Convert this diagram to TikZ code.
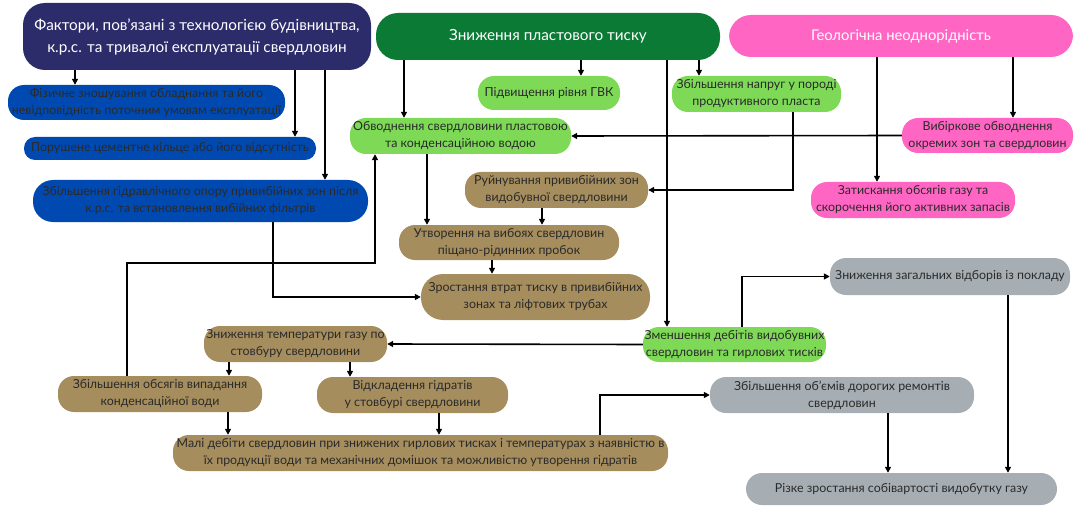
\documentclass[tikz,border=0pt]{standalone}
\usepackage{fontspec}
\setmainfont{Lato}
\usetikzlibrary{arrows.meta}

\definecolor{navyc}{HTML}{2D2C6B}
\definecolor{darkgreenc}{HTML}{0B7A35}
\definecolor{pinkc}{HTML}{FF66C4}
\definecolor{bluec}{HTML}{0049B0}
\definecolor{lightgreenc}{HTML}{7ED957}
\definecolor{brownc}{HTML}{A68D5D}
\definecolor{greyc}{HTML}{A7AEB3}
\definecolor{textc}{HTML}{2A2A2A}

\tikzset{
  box/.style={fill=#1, rounded corners=16pt, align=center, inner sep=1pt,
    text=textc, font=\fontsize{12.4}{17}\selectfont},
  head/.style={fill=#1, rounded corners=22pt, align=center, inner sep=1pt,
    text=white, font=\fontsize{15.3}{22}\selectfont},
  link/.style={line width=1.6pt, -{Triangle[length=6pt,width=6pt]}},
}

\begin{document}
\begin{tikzpicture}[x=1pt, y=-1pt]
\useasboundingbox (0,0) rectangle (1077,508);

% top level causes
\node [head=navyc, minimum width=348, minimum height=67] (fac) at (197,36.5)
  {Фактори, пов'язані з технологією будівництва,\\к.р.с. та тривалої експлуатації свердловин};
\node [head=darkgreenc, minimum width=344, minimum height=47] (pres) at (548,36.5)
  {Зниження пластового тиску};
\node [head=pinkc, minimum width=344, minimum height=42, font=\fontsize{14.8}{20}\selectfont] (geo) at (901,36)
  {Геологічна неоднорідність};

% blue column
\node [box=bluec, minimum width=277, minimum height=35] (wear) at (146.5,102.5)
  {Фізичне зношування обладнання та його\\невідповідність поточним умовам експлуатації};
\node [box=bluec, minimum width=292, minimum height=23, rounded corners=11pt] (cem) at (170,148.5)
  {Порушене цементне кільце або його відсутність};
\node [box=bluec, minimum width=335, minimum height=42, rounded corners=20pt] (hyd) at (200.5,201)
  {Збільшення гідравлічного опору привибійних зон після\\к.р.с. та встановлення вибійних фільтрів};

% green
\node [box=lightgreenc, minimum width=142, minimum height=34] (gvk) at (549,93)
  {Підвищення рівня ГВК};
\node [box=lightgreenc, minimum width=169, minimum height=36] (stress) at (756.5,94)
  {Збільшення напруг у породі\\продуктивного пласта};
\node [box=lightgreenc, minimum width=221, minimum height=36] (water) at (460.5,136)
  {Обводнення свердловини пластовою\\та конденсаційною водою};
\node [box=lightgreenc, minimum width=183, minimum height=35] (rate) at (734.5,344.5)
  {Зменшення дебітів видобувних\\свердловин та гирлових тисків};

% pink
\node [box=pinkc, minimum width=171, minimum height=35] (selw) at (987.5,135.5)
  {Вибіркове обводнення\\окремих зон та свердловин};
\node [box=pinkc, minimum width=204, minimum height=36] (squeeze) at (913,200)
  {Затискання обсягів газу та\\скорочення його активних запасів};

% brown
\node [box=brownc, minimum width=183, minimum height=36] (ruin) at (556.5,190)
  {Руйнування привибійних зон\\видобувної свердловини};
\node [box=brownc, minimum width=220, minimum height=35] (plug) at (509,242.5)
  {Утворення на вибоях свердловин\\піщано-рідинних пробок};
\node [box=brownc, minimum width=229, minimum height=46, rounded corners=22pt] (loss) at (535.5,297)
  {Зростання втрат тиску в привибійних\\зонах та ліфтових трубах};
\node [box=brownc, minimum width=183, minimum height=36] (temp) at (295.5,344)
  {Зниження температури газу по\\стовбуру свердловини};
\node [box=brownc, minimum width=204, minimum height=36] (cond) at (160,394)
  {Збільшення обсягів випадання\\конденсаційної води};
\node [box=brownc, minimum width=191, minimum height=36] (hydr) at (412.5,395)
  {Відкладення гідратів\\у стовбурі свердловини};
\node [box=brownc, minimum width=495, minimum height=36] (small) at (420.5,453)
  {Малі дебіти свердловин при знижених гирлових тисках і температурах з наявністю в\\їх продукції води та механічних домішок та можливістю утворення гідратів};

% grey
\node [box=greyc, minimum width=240, minimum height=37] (prod) at (950,276.5)
  {Зниження загальних відборів із покладу};
\node [box=greyc, minimum width=264, minimum height=36] (repair) at (842,395)
  {Збільшення об'ємів дорогих ремонтів\\свердловин};
\node [box=greyc, minimum width=311, minimum height=32] (cost) at (901.5,489)
  {Різке зростання собівартості видобутку газу};

% connectors
\draw [link] (fac.south -| 75,0) -- (wear.north -| 75,0);
\draw [link] (fac.south -| 295,0) -- (cem.north -| 295,0);
\draw [link] (fac.south -| 325,0) -- (hyd.north -| 325,0);
\draw [link] (hyd.south -| 273,0) |- (loss.west);
\draw [link] (cond.north -| 127,0) -- ++(0,-113) -| (water.south -| 375,0);

\draw [link] (pres.south -| 404,0) -- (water.north -| 404,0);
\draw [link] (pres.south -| 581,0) -- (gvk.north -| 581,0);
\draw [link] (pres.south -| 699,0) -- (stress.north -| 699,0);
\draw [link] (pres.south -| 667,0) -- (rate.north -| 667,0);

\draw [link] (geo.south -| 1013,0) -- (selw.north -| 1013,0);
\draw [link] (geo.south -| 877,0) -- (squeeze.north -| 877,0);
\draw [link] (selw.west) -- (water.east);

\draw [link] (stress.south -| 793,0) |- (ruin.east);
\draw [link] (water.south -| 427,0) -- (plug.north -| 427,0);
\draw [link] (ruin.south -| 542,0) -- (plug.north -| 542,0);
\draw [link] (plug.south -| 492,0) -- (loss.north -| 492,0);

\draw [link] (rate.west) -- (temp.east);
\draw [link] (rate.north -| 742,0) |- (prod.west);
\draw [link] (temp.south -| 229,0) -- (cond.north -| 229,0);
\draw [link] (temp.south -| 350,0) -- (hydr.north -| 350,0);
\draw [link] (cond.south -| 228,0) -- (small.north -| 228,0);
\draw [link] (hydr.south -| 439,0) -- (small.north -| 439,0);
\draw [link] (small.north -| 600,0) |- (repair.west);
\draw [link] (repair.south -| 888,0) -- (cost.north -| 888,0);
\draw [link] (prod.south -| 1008,0) -- (cost.north -| 1008,0);

\end{tikzpicture}
\end{document}
